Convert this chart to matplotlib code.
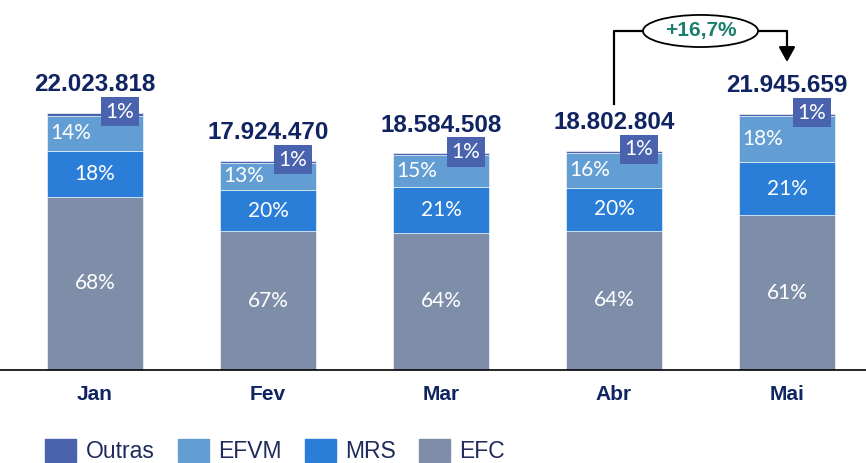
import matplotlib
matplotlib.use("Agg")
import matplotlib.pyplot as plt
from matplotlib.patches import Patch, Ellipse
import numpy as np

months = ["Jan", "Fev", "Mar", "Abr", "Mai"]
totals = [22023818, 17924470, 18584508, 18802804, 21945659]
total_labels = ["22.023.818", "17.924.470", "18.584.508", "18.802.804", "21.945.659"]
efc_pct = [68, 67, 64, 64, 61]
mrs_pct = [18, 20, 21, 20, 21]
efvm_pct = [14, 13, 15, 16, 18]
outras_pct = [1, 1, 1, 1, 1]
growth_label = "+16,7%"

c_outras = "#4A63AE"
c_efvm = "#629ED3"
c_mrs = "#2A7ED8"
c_efc = "#7F8EA8"
navy = "#0F2461"

fig = plt.figure(figsize=(8.66, 4.63), dpi=100)
ax = fig.add_axes([0, 1 - 370/463, 1, 370/463])

x = np.arange(len(months))
tot = np.array(totals, dtype=float)
pcts = np.array([efc_pct, mrs_pct, efvm_pct, outras_pct], dtype=float)
sums = pcts.sum(axis=0)
heights = tot * pcts / sums
w = 0.555

bottom = np.zeros(len(months))
colors = [c_efc, c_mrs, c_efvm, c_outras]
for h, c in zip(heights, colors):
    ax.bar(x, h, w, bottom=bottom, color=c, edgecolor="#ffffff", linewidth=0.4, zorder=2)
    bottom += h

pct_font = dict(family=["Lato", "DejaVu Sans"], fontweight="normal", color="white", fontsize=15)
for i in range(len(months)):
    b0 = 0
    ax.text(x[i], b0 + heights[0][i] * 0.5, f"{efc_pct[i]}%", ha="center", va="center", zorder=3, **pct_font)
    b0 += heights[0][i]
    ax.text(x[i], b0 + heights[1][i] * 0.5, f"{mrs_pct[i]}%", ha="center", va="center", zorder=3, **pct_font)
    b0 += heights[1][i]
    ax.text(x[i] - 0.14, b0 + heights[2][i] * 0.5, f"{efvm_pct[i]}%", ha="center", va="center", zorder=3, **pct_font)
    ax.text(x[i] + 0.145, tot[i] + 0.1e6, f"{outras_pct[i]}%", ha="center", va="center", zorder=6,
            bbox=dict(boxstyle="square,pad=0.22", fc=c_outras, ec="none"), **pct_font)
    ax.text(x[i], tot[i] + 2.4e6, total_labels[i], ha="center", va="center", fontsize=17.5,
            fontweight="bold", color=navy, family="Liberation Sans", zorder=3)

# growth annotation
y_start = tot[3] + 4.0e6
y_top = 29.05e6
xm = (x[3] + x[4]) / 2
ax.plot([x[3], x[3], xm - 0.3], [y_start, y_top, y_top], color="black", lw=1.6, zorder=3)
ax.plot([xm + 0.3, x[4], x[4]], [y_top, y_top, tot[4] + 5.5e6], color="black", lw=1.6, zorder=3)
ax.annotate("", xy=(x[4], tot[4] + 4.45e6), xytext=(x[4], tot[4] + 5.7e6),
            arrowprops=dict(arrowstyle="-|>,head_width=0.25,head_length=0.45", mutation_scale=20,
                            color="black", lw=1.6, shrinkA=0, shrinkB=0), zorder=3)
ell = Ellipse((xm, y_top), 0.665, 2.75e6, fc="white", ec="black", lw=1.3, zorder=4)
ax.add_patch(ell)
ax.text(xm, y_top, growth_label, ha="center", va="center", fontsize=15,
        fontweight="bold", color="#1C7F6D", family="Liberation Sans", zorder=5)

ax.set_xlim(-95/173, (866 - 95)/173)
ax.set_ylim(0, 370/11.67 * 1e6)
ax.set_xticks(x)
ax.set_xticklabels(months, fontsize=15, fontweight="bold", color=navy, family="Liberation Sans")
ax.tick_params(axis="x", length=0, pad=11)
ax.set_yticks([])
for s in ["top", "right", "left"]:
    ax.spines[s].set_visible(False)
ax.spines["bottom"].set_color("black")
ax.spines["bottom"].set_linewidth(1.2)
ax.patch.set_alpha(0)

handles = [Patch(color=c_outras), Patch(color=c_efvm), Patch(color=c_mrs), Patch(color=c_efc)]
leg = fig.legend(handles, ["Outras", "EFVM", "MRS", "EFC"], loc="center left",
                 bbox_to_anchor=(34/866, 1 - 451/463), ncol=4, frameon=False,
                 prop=dict(family="Liberation Sans", size=16.5), handlelength=1.35, handleheight=1.2,
                 handletextpad=0.42, columnspacing=1.0, borderpad=0)
for t in leg.get_texts():
    t.set_color("#1F2B5C")

fig.savefig("out.png", dpi=100)
